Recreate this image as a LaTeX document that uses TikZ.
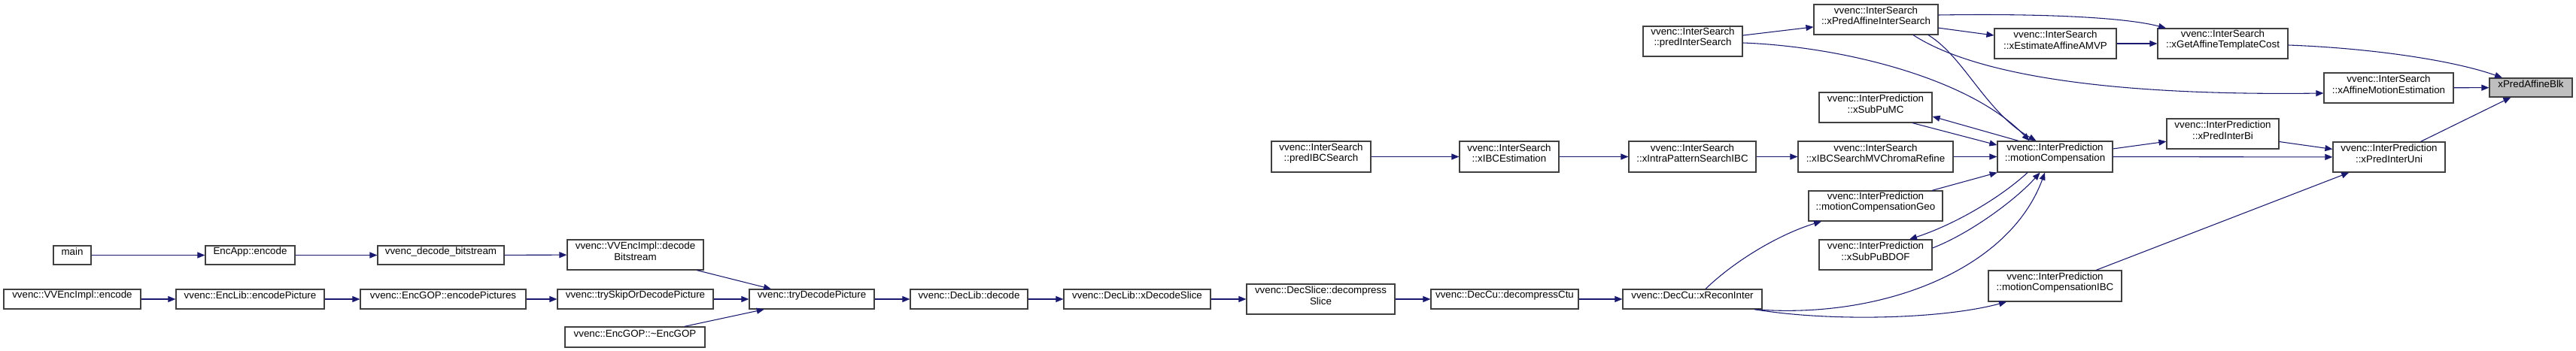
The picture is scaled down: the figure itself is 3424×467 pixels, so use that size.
\documentclass[tikz,border=0pt]{standalone}
\usepackage{fontspec}
\setmainfont{Liberation Sans}
\usetikzlibrary{arrows.meta,fit,calc}
\definecolor{edgeblue}{RGB}{25,25,112}
\definecolor{boxborder}{RGB}{64,64,64}
\definecolor{graybox}{RGB}{191,191,191}
\tikzset{
  box/.style={draw=boxborder,line width=0.9pt,fill=white,inner sep=0pt,
    font=\fontsize{10}{10.6}\selectfont},
  edge/.style={draw=edgeblue,line width=0.8pt,-{Triangle[length=7.5pt,width=6pt]}}
}
\newcommand\bx[7]{\node[box,align=#6,fit={(#2,#3) (#4,#5)}] (#1) {#7};}
\begin{document}
\begin{tikzpicture}[x=0.75pt,y=-0.75pt]
\path[use as bounding box] (0,0) rectangle (3424,467);
% nodes
\bx{main}{71}{327}{121}{352}{center}{main}
\bx{encapp}{273}{327}{392}{352}{center}{EncApp::encode}
\bx{decbs}{502}{327}{670}{352}{center}{vvenc\_decode\_bitstream}
\bx{implenc}{5}{385}{187}{411}{center}{vvenc::VVEncImpl::encode}
\bx{libenc}{234}{385}{431}{411}{center}{vvenc::EncLib::encodePicture}
\bx{gopenc}{479}{385}{699}{411}{center}{vvenc::EncGOP::encodePictures}
\bx{impldec}{754}{319}{935}{359}{center}{vvenc::VVEncImpl::decode\\Bitstream}
\bx{tryskip}{741}{385}{948}{411}{center}{vvenc::trySkipOrDecodePicture}
\bx{trydec}{996}{385}{1162}{411}{center}{vvenc::tryDecodePicture}
\bx{libdec}{1210}{385}{1366}{411}{center}{vvenc::DecLib::decode}
\bx{gopdtor}{751}{435}{937}{462}{center}{vvenc::EncGOP::\textasciitilde EncGOP}
\bx{xdecslice}{1414}{385}{1609}{411}{center}{vvenc::DecLib::xDecodeSlice}
\bx{decslice}{1657}{378}{1854}{418}{center}{vvenc::DecSlice::decompress\\Slice}
\bx{decctu}{1902}{385}{2098}{411}{center}{vvenc::DecCu::decompressCtu}
\bx{xri}{2157}{385}{2342}{411}{center}{vvenc::DecCu::xReconInter}
\bx{predibc}{1690}{188}{1822}{229}{center}{vvenc::InterSearch\\::predIBCSearch}
\bx{xibcest}{1940}{188}{2072}{229}{center}{vvenc::InterSearch\\::xIBCEstimation}
\bx{xintra}{2165}{188}{2334}{229}{left}{vvenc::InterSearch\\::xIntraPatternSearchIBC}
\bx{xibcchroma}{2390}{188}{2596}{229}{left}{vvenc::InterSearch\\::xIBCSearchMVChromaRefine}
\bx{mc}{2655}{188}{2808}{229}{left}{vvenc::InterPrediction\\::motionCompensation}
\bx{mcgeo}{2404}{254}{2582}{294}{left}{vvenc::InterPrediction\\::motionCompensationGeo}
\bx{bdof}{2418}{319}{2568}{359}{center}{vvenc::InterPrediction\\::xSubPuBDOF}
\bx{mcibc}{2643}{360}{2820}{401}{left}{vvenc::InterPrediction\\::motionCompensationIBC}
\bx{subpumc}{2418}{123}{2568}{163}{center}{vvenc::InterPrediction\\::xSubPuMC}
\bx{predinter}{2184}{35}{2316}{75}{center}{vvenc::InterSearch\\::predInterSearch}
\bx{paffine}{2411}{6}{2576}{46}{left}{vvenc::InterSearch\\::xPredAffineInterSearch}
\bx{amvp}{2651}{38}{2813}{78}{left}{vvenc::InterSearch\\::xEstimateAffineAMVP}
\bx{tmpl}{2868}{38}{3041}{78}{left}{vvenc::InterSearch\\::xGetAffineTemplateCost}
\bx{ame}{3089}{97}{3261}{137}{left}{vvenc::InterSearch\\::xAffineMotionEstimation}
\node[box,fill=graybox,fit={(3309,104) (3419,129)}] (blk) {xPredAffineBlk};
\bx{bi}{2880}{158}{3029}{198}{center}{vvenc::InterPrediction\\::xPredInterBi}
\bx{uni}{3101}{189}{3250}{229}{center}{vvenc::InterPrediction\\::xPredInterUni}
% straight edges
\draw[edge] (main) -- (encapp);
\draw[edge] (encapp) -- (decbs);
\draw[edge] (decbs) -- (impldec);
\draw[edge] (implenc) -- (libenc);
\draw[edge] (libenc) -- (gopenc);
\draw[edge] (gopenc) -- (tryskip);
\draw[edge] (impldec) -- (trydec);
\draw[edge] (tryskip) -- (trydec);
\draw[edge] (gopdtor) -- (trydec);
\draw[edge] (trydec) -- (libdec);
\draw[edge] (libdec) -- (xdecslice);
\draw[edge] (xdecslice) -- (decslice);
\draw[edge] (decslice) -- (decctu);
\draw[edge] (decctu) -- (xri);
\draw[edge] (predibc) -- (xibcest);
\draw[edge] (xibcest) -- (xintra);
\draw[edge] (xintra) -- (xibcchroma);
\draw[edge] (xibcchroma) -- (mc);
\draw[edge] (mcgeo) -- (mc);
\draw[edge] (predinter) -- (paffine);
\draw[edge] (paffine) -- (amvp);
\draw[edge] (amvp) -- (tmpl);
\draw[edge] (ame) -- (blk);
\draw[edge] (mc) -- (bi);
\draw[edge] (mc) -- (uni);
\draw[edge] (bi) -- (uni);
\draw[edge] (mcibc) -- (uni);
\draw[edge] (uni) -- (blk);
\draw[edge] ($(subpumc.south)+(49,0)$) -- ($(mc.west)+(0,-15.5)$);
\draw[edge] ($(mc.north)+(-48.5,0)$) -- ($(subpumc.east)+(0,12)$);
% curved edges
\draw[edge] ($(xri.north)+(17.5,0)$) .. controls (2310,343) and (2370,310) .. ($(mcgeo.south)+(-72,0)$);
\draw[edge] ($(xri.south)+(82.5,0)$) .. controls (2500,425) and (2670,360) .. ($(mc.south)+(-13.5,0)$);
\draw[edge] ($(xri.south)+(82.5,0)$) .. controls (2430,428) and (2580,425) .. ($(mcibc.south)+(-64.5,0)$);
\draw[edge] ($(bdof.east)+(0,-9)$) .. controls (2620,310) and (2680,265) .. ($(mc.south)+(-20,0)$);
\draw[edge] ($(mc.south)+(-36.5,0)$) .. controls (2660,262) and (2600,298) .. ($(bdof.north)+(45,0)$);
\draw[edge] ($(predinter.east)+(0,2)$) .. controls (2450,62) and (2620,105) .. ($(mc.north)+(-34,0)$);
\draw[edge] ($(paffine.south)+(69.5,0)$) .. controls (2610,75) and (2640,150) .. ($(mc.north)+(-25,0)$);
\draw[edge] ($(paffine.east)+(0,-6)$) .. controls (2700,18) and (2820,22) .. ($(tmpl.north)+(-75.5,0)$);
\draw[edge] ($(tmpl.east)+(0,2)$) .. controls (3150,64) and (3260,80) .. ($(blk.north)+(-38,0)$);
\draw[edge] ($(paffine.south)+(49.5,0)$) .. controls (2610,90) and (2760,128) .. ($(ame.west)+(0,7)$);
\end{tikzpicture}
\end{document}
